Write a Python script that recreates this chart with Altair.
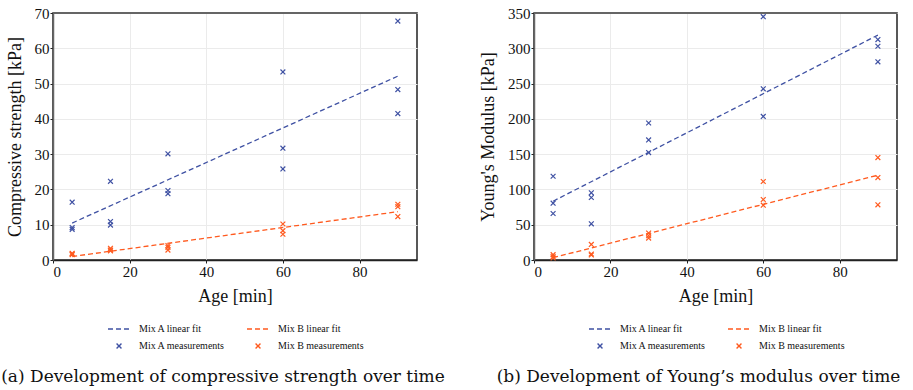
import altair as alt
import pandas as pd

# Specimen ages [min]
ages = [5, 15, 30, 60, 90]

# Three specimens per age, compressive strength [kPa]
strength_a = [[16.4, 9.2, 8.7], [22.3, 10.9, 9.9], [30.1, 19.7, 18.8],
              [53.3, 31.7, 25.8], [67.7, 48.3, 41.5]]
strength_b = [[1.9, 1.5, 1.7], [3.3, 2.8, 2.6], [4.1, 3.6, 2.8],
              [10.2, 8.3, 7.3], [15.8, 15.1, 12.3]]

# Three specimens per age, Young's modulus [kPa]
modulus_a = [[118.7, 80.5, 65.9], [95.2, 88.6, 51.3], [194.1, 170.1, 152.2],
             [344.8, 242.6, 203.5], [312.3, 302.9, 280.8]]
modulus_b = [[7.5, 4.7, 2.8], [22.1, 8.5, 7.1], [38.2, 34.4, 31.1],
             [111.2, 85.7, 77.7], [145.1, 116.8, 78.2]]

series_order = ["Mix A linear fit", "Mix B linear fit",
                "Mix A measurements", "Mix B measurements"]

BLUE = "#3f51a3"
ORANGE = "#ff5a1f"
CROSS = "M-0.22,-0.22L0.22,0.22M-0.22,0.22L0.22,-0.22"

SERIF = "Liberation Serif"
CAPTION_FONT = "DejaVu Serif"


def to_frame(mix_a, mix_b):
    rows = []
    for mix, values in (("Mix A", mix_a), ("Mix B", mix_b)):
        for age, specimens in zip(ages, values):
            for v in specimens:
                rows.append({"age": age, "value": v, "mix": mix})
    return pd.DataFrame(rows)


def legend():
    return alt.Legend(
        title=None, orient="none", legendX=54, legendY=304,
        columns=2, direction="horizontal",
        labelFont=SERIF, labelFontSize=10, labelColor="#111",
        symbolSize=484, symbolStrokeWidth=1.4, labelOffset=8,
        columnPadding=18, rowPadding=-10,
    )


def axis_style(**kw):
    return alt.Axis(
        labelFont=SERIF, labelFontSize=15, labelColor="#111",
        titleFont=SERIF, titleFontSize=18, titleFontWeight="normal",
        titleColor="#111", gridColor="#ebebeb", gridWidth=1,
        tickColor="#222", tickSize=3, labelPadding=1, **kw
    )


def panel(df, y_max, y_step, y_title, caption, caption_dx, plot_width):
    color = alt.Color(
        "series:N",
        scale=alt.Scale(domain=series_order, range=[BLUE, ORANGE, BLUE, ORANGE]),
        legend=legend(),
    )
    shape = alt.Shape(
        "series:N",
        scale=alt.Scale(domain=series_order, range=["stroke", "stroke", CROSS, CROSS]),
        legend=legend(),
    )
    dash = alt.StrokeDash(
        "series:N",
        scale=alt.Scale(domain=series_order, range=[[5, 3], [5, 3], [1, 0], [1, 0]]),
        legend=legend(),
    )
    x = alt.X(
        "age:Q",
        scale=alt.Scale(domain=[0, 95], nice=False),
        axis=axis_style(title="Age [min]", values=[0, 20, 40, 60, 80],
                        domainColor="#222", domainWidth=1.5, titlePadding=8),
    )
    y = alt.Y(
        "value:Q",
        scale=alt.Scale(domain=[0, y_max], nice=False),
        axis=axis_style(title=y_title, values=list(range(0, y_max + 1, y_step)),
                        domainColor="#666", domainWidth=1.5, titlePadding=10),
    )

    base = alt.Chart(df)

    fits = (
        base.transform_regression("age", "value", groupby=["mix"])
        .transform_calculate(series="datum.mix + ' linear fit'")
        .mark_line(strokeWidth=1.3)
        .encode(x=x, y=y, color=color, strokeDash=dash)
    )
    points = (
        base.transform_calculate(series="datum.mix + ' measurements'")
        .mark_point(filled=False, strokeWidth=1.2, opacity=1)
        .encode(x=x, y=y, color=color, shape=shape, size=alt.value(484))
    )
    top_edge = alt.Chart(df).mark_rule(color="#666", strokeWidth=1.5).encode(
        x=alt.value(0), x2=alt.value(plot_width), y=alt.value(0)
    )

    return alt.layer(fits, points, top_edge).properties(
        width=plot_width,
        height=247,
        title=alt.TitleParams(
            text=caption, orient="bottom", anchor="middle", frame="group",
            font=CAPTION_FONT, fontSize=17, fontWeight="normal",
            color="#111", dx=caption_dx, offset=17,
        ),
    )


left = panel(to_frame(strength_a, strength_b), 70, 10,
             "Compressive strength [kPa]",
             "(a) Development of compressive strength over time", -12, 364)
right = panel(to_frame(modulus_a, modulus_b), 350, 50,
              "Young's Modulus [kPa]",
              "(b) Development of Young\u2019s modulus over time", -17, 363)

chart = (
    alt.hconcat(left, right, spacing=32)
    .resolve_scale(color="independent", shape="independent", strokeDash="independent")
    .properties(padding={"left": 0, "top": 5, "right": 5, "bottom": 2})
    .configure(font=SERIF)
    .configure_view(stroke="#222", strokeWidth=1.5)
)

chart.save("out.html", embed_options={"renderer": "svg", "actions": False})
